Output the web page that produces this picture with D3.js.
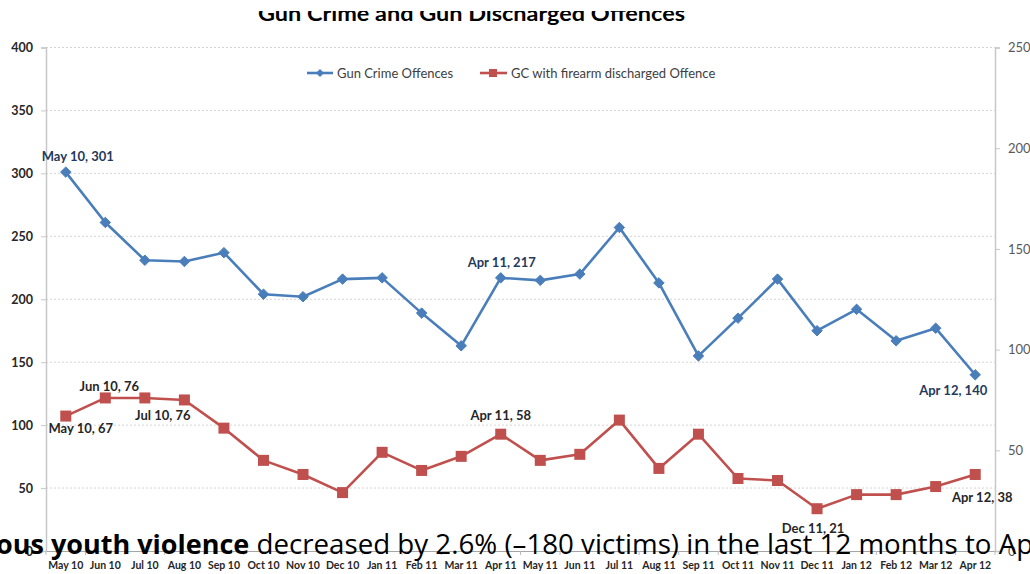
<!DOCTYPE html>
<html>
<head>
<meta charset="utf-8">
<script src="https://d3js.org/d3.v7.min.js"></script>
<style>
html,body{margin:0;padding:0;background:#fff;overflow:hidden;}
svg{display:block;}
</style>
</head>
<body>
<div id="chart"></div>
<script>
const months = ["May 10","Jun 10","Jul 10","Aug 10","Sep 10","Oct 10","Nov 10","Dec 10","Jan 11","Feb 11","Mar 11","Apr 11","May 11","Jun 11","Jul 11","Aug 11","Sep 11","Oct 11","Nov 11","Dec 11","Jan 12","Feb 12","Mar 12","Apr 12"];
const gunCrime = [301,261,231,230,237,204,202,216,217,189,163,217,215,220,257,213,155,185,216,175,192,167,177,140];
const discharged = [67,76,76,75,61,45,38,29,49,40,47,58,45,48,65,41,58,36,35,21,28,28,32,38];
const leftTicks = [0,50,100,150,200,250,300,350,400];
const rightTicks = [0,50,100,150,200,250];
const seriesNames = ["Gun Crime Offences","GC with firearm discharged Offence"];
const chartTitle = "Gun Crime and Gun Discharged Offences";
const captionBold = "ous youth violence";
const captionRest = " decreased by 2.6% (\u2013180 victims) in the last 12 months to April 2012";
// labelled points: index into months
const gunLabelIdx = [0, 11, 23];
const disLabelIdx = [0, 1, 2, 11, 19, 23];

const W = 1030, H = 574;
const plot = {left: 46, right: 995, top: 47.5, bottom: 551};
const blue = "#4a7ebb", red = "#c0504d";
const font = "Lato, 'Open Sans', sans-serif";

const svg = d3.select("#chart").append("svg").attr("width", W).attr("height", H);

const x = d3.scaleBand().domain(months).range([plot.left, plot.right]);
const cx = m => x(m) + x.bandwidth() / 2;
const yL = d3.scaleLinear().domain([0, 400]).range([plot.bottom, plot.top]);
const yR = d3.scaleLinear().domain([0, 250]).range([plot.bottom, plot.top]);

// gridlines
svg.append("g").selectAll("line").data(leftTicks.filter(t => t > 0)).join("line")
  .attr("x1", plot.left).attr("x2", plot.right)
  .attr("y1", d => yL(d)).attr("y2", d => yL(d))
  .attr("stroke", "#d4d4d4").attr("stroke-width", 1).attr("stroke-dasharray", "2,2");

// left axis
const gL = svg.append("g").attr("transform", `translate(${plot.left},0)`)
  .call(d3.axisLeft(yL).tickValues(leftTicks).tickSize(5).tickPadding(8));
gL.select(".domain").attr("stroke", "#c8c8c8").attr("stroke-width", 1.5);
gL.selectAll(".tick line").attr("stroke", "#c8c8c8");
gL.selectAll(".tick text").attr("font-family", font).attr("font-size", 12.5).attr("font-weight", "bold").attr("fill", "#262626");

// right axis
const gR = svg.append("g").attr("transform", `translate(${plot.right},0)`)
  .call(d3.axisRight(yR).tickValues(rightTicks).tickSize(5).tickPadding(8));
gR.select(".domain").attr("stroke", "#c8c8c8").attr("stroke-width", 1.5);
gR.selectAll(".tick line").attr("stroke", "#c8c8c8");
gR.selectAll(".tick text").attr("font-family", font).attr("font-size", 13).attr("fill", "#595959");

// bottom axis
const gB = svg.append("g").attr("transform", `translate(0,${plot.bottom})`)
  .call(d3.axisBottom(x).tickSize(0).tickPadding(11));
gB.select(".domain").attr("stroke", "#a6a6a6").attr("stroke-width", 1.2);
gB.selectAll(".tick text").attr("font-family", font).attr("font-size", 10.5).attr("font-weight", "bold").attr("fill", "#262626");
svg.append("g").selectAll("line").data(months.concat(["end"])).join("line")
  .attr("x1", (d, i) => plot.left + i * x.bandwidth()).attr("x2", (d, i) => plot.left + i * x.bandwidth())
  .attr("y1", plot.bottom).attr("y2", plot.bottom + 4).attr("stroke", "#bdbdbd");

// lines
const lineL = d3.line().x((d, i) => cx(months[i])).y(d => yL(d));
const lineR = d3.line().x((d, i) => cx(months[i])).y(d => yR(d));
svg.append("path").attr("d", lineL(gunCrime)).attr("fill", "none").attr("stroke", blue).attr("stroke-width", 2.6).attr("stroke-linejoin", "round");
svg.append("path").attr("d", lineR(discharged)).attr("fill", "none").attr("stroke", red).attr("stroke-width", 2.6).attr("stroke-linejoin", "round");

const diamond = d3.symbol().type(d3.symbolDiamond2).size(70);
svg.append("g").selectAll("path").data(gunCrime).join("path")
  .attr("d", diamond).attr("transform", (d, i) => `translate(${cx(months[i])},${yL(d)})`)
  .attr("fill", blue).attr("stroke", blue).attr("stroke-width", 1);
const sq = 11;
svg.append("g").selectAll("rect").data(discharged).join("rect")
  .attr("x", (d, i) => cx(months[i]) - sq / 2).attr("y", d => yR(d) - sq / 2)
  .attr("width", sq).attr("height", sq).attr("fill", red);

// data labels
const gunOff = {0: [12, -11], 11: [1, -11], 23: [-22, 20]};
const disOff = {0: [15, 17], 1: [4, -7], 2: [18, 22], 11: [0, -14], 19: [-4, 24], 23: [7, 28]};
svg.append("g").selectAll("text").data(gunLabelIdx).join("text")
  .attr("x", i => cx(months[i]) + gunOff[i][0]).attr("y", i => yL(gunCrime[i]) + gunOff[i][1])
  .attr("text-anchor", "middle").attr("font-family", font).attr("font-size", 13).attr("font-weight", "bold")
  .attr("fill", "#1f3a5c").text(i => `${months[i]}, ${gunCrime[i]}`);
svg.append("g").selectAll("text").data(disLabelIdx).join("text")
  .attr("x", i => cx(months[i]) + disOff[i][0]).attr("y", i => yR(discharged[i]) + disOff[i][1])
  .attr("text-anchor", "middle").attr("font-family", font).attr("font-size", 13).attr("font-weight", "bold")
  .attr("fill", "#262626").text(i => `${months[i]}, ${discharged[i]}`);

// legend
const lg = svg.append("g").attr("font-family", font).attr("font-size", 13).attr("fill", "#404040");
lg.append("line").attr("x1", 307).attr("x2", 333).attr("y1", 73).attr("y2", 73).attr("stroke", blue).attr("stroke-width", 2.6);
lg.append("path").attr("d", d3.symbol().type(d3.symbolDiamond2).size(40)).attr("transform", "translate(320,73)").attr("fill", blue);
lg.append("text").attr("x", 337).attr("y", 77.5).text(seriesNames[0]);
lg.append("line").attr("x1", 480).attr("x2", 507).attr("y1", 73).attr("y2", 73).attr("stroke", red).attr("stroke-width", 2.6);
lg.append("rect").attr("x", 489).attr("y", 69).attr("width", 8).attr("height", 8).attr("fill", red);
lg.append("text").attr("x", 511).attr("y", 77.5).text(seriesNames[1]);

// title (partly covered at top)
svg.append("text").attr("x", 258).attr("y", 21).attr("font-family", font).attr("font-size", 21)
  .attr("font-weight", "bold").attr("fill", "#000").attr("textLength", 427).attr("lengthAdjust", "spacingAndGlyphs")
  .text(chartTitle);
svg.append("rect").attr("x", 0).attr("y", 0).attr("width", W).attr("height", 11).attr("fill", "#fff");

// overlaid caption text
const cap = svg.append("text").attr("x", -4).attr("y", 554).attr("font-family", "'Open Sans', 'Noto Sans', sans-serif")
  .attr("fill", "#000");
cap.append("tspan").attr("font-weight", "bold").attr("font-size", 27).text(captionBold);
cap.append("tspan").attr("font-size", 27.7).text(captionRest);
</script>
</body>
</html>
